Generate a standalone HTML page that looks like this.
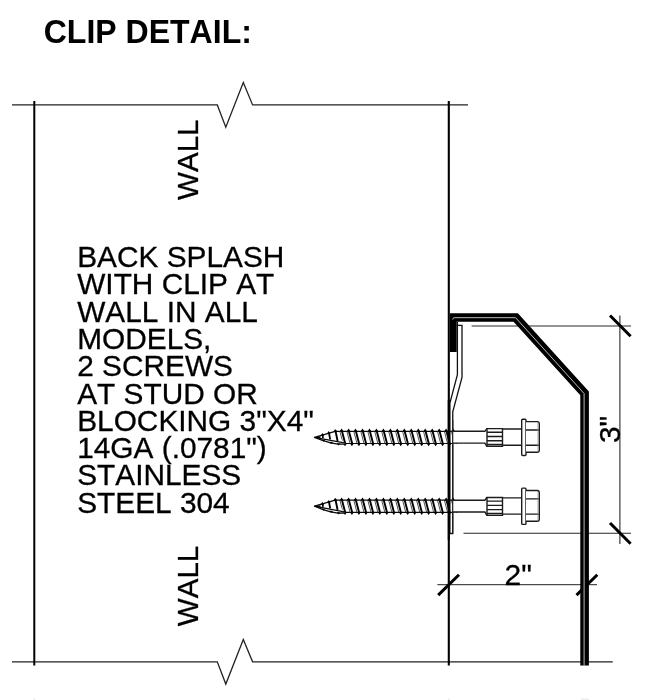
<!DOCTYPE html>
<html lang="en">
<head>
<meta charset="utf-8">
<title>Clip Detail</title>
<style>
html,body{margin:0;padding:0;background:#fff;}
body{width:646px;height:700px;overflow:hidden;position:relative;}
svg{position:absolute;left:0;top:0;display:block;filter:grayscale(1);}
text{font-family:"Liberation Sans",Arial,Helvetica,sans-serif;fill:#000;font-kerning:none;}
.t{font-size:30px;stroke:#000;stroke-width:0.3px;}
</style>
</head>
<body>
<svg width="646" height="700" viewBox="0 0 646 700">
<rect width="646" height="700" fill="#fff"/>
<text transform="translate(43.7 43.3) scale(0.986 1.01)" font-size="32.5" font-weight="bold">CLIP DETAIL:</text>

<path d="M12 104.9H217.3L225.8 127.2L243.3 82.6L252.6 104.9H468" stroke="#222" stroke-width="1.3" fill="none" stroke-linejoin="miter"/>
<path d="M12 661.8H217.3L225.8 684.1L243.3 639.5L252.6 661.8H612.8" stroke="#222" stroke-width="1.3" fill="none" stroke-linejoin="miter"/>
<path d="M34.3 101V665.5" stroke="#000" stroke-width="2" fill="none"/>
<path d="M448.8 101V665.5" stroke="#000" stroke-width="2.1" fill="none"/>
<text class="t" transform="translate(197.9 199.9) rotate(-90) scale(0.985 1)">WALL</text>
<text class="t" transform="translate(197.9 626.2) rotate(-90) scale(0.985 1)">WALL</text>
<text class="t" transform="translate(77.2 267.00) scale(0.994 1)">BACK SPLASH</text>
<text class="t" transform="translate(77.2 294.30) scale(0.994 1)">WITH CLIP AT</text>
<text class="t" transform="translate(77.2 321.60) scale(0.994 1)">WALL IN ALL</text>
<text class="t" transform="translate(77.2 348.90) scale(0.994 1)">MODELS,</text>
<text class="t" transform="translate(77.2 376.20) scale(0.994 1)">2 SCREWS</text>
<text class="t" transform="translate(77.2 403.50) scale(0.994 1)">AT STUD OR</text>
<text class="t" transform="translate(77.2 430.80) scale(0.994 1)">BLOCKING 3&quot;X4&quot;</text>
<text class="t" transform="translate(77.2 458.10) scale(0.994 1)">14GA (.0781&quot;)</text>
<text class="t" transform="translate(77.2 485.40) scale(0.994 1)">STAINLESS</text>
<text class="t" transform="translate(77.2 512.70) scale(0.994 1)">STEEL 304</text>
<path d="M471.6 326H631M463.5 533.2H631M619.9 315.5V544" stroke="#2a2a2a" stroke-width="1.1" fill="none"/>
<path d="M437.4 584.7H597" stroke="#222" stroke-width="1" fill="none"/>
<path d="M610 315.5L630.6 336.3M610 523L630.6 543.8" stroke="#000" stroke-width="3" fill="none"/>
<path d="M438.2 595.1L459 574.7M576.5 595.1L597.3 574.7" stroke="#000" stroke-width="3" fill="none"/>
<text class="t" x="504.6" y="584.6">2&quot;</text>
<text class="t" transform="translate(619.8 443.1) rotate(-90)">3&quot;</text>
<path d="M457.4 322V374.7L449.9 403.2V533.5H452.75V411.9L462 377.4V325.4H456.5" stroke="#111" stroke-width="1.3" fill="#fff" stroke-linejoin="miter"/>
<path d="M335.2 431.3H452.5M343 443.5H452.5" stroke="#0a0a0a" stroke-width="1.2" fill="none"/>
<path d="M342.0 431.3L345.2 443.5M348.9 431.3L352.2 443.5M355.9 431.3L359.1 443.5M362.9 431.3L366.1 443.5M369.9 431.3L373.1 443.5M376.8 431.3L380.0 443.5M383.8 431.3L387.0 443.5M390.8 431.3L394.0 443.5M397.7 431.3L400.9 443.5M404.7 431.3L407.9 443.5M411.7 431.3L414.9 443.5M418.7 431.3L421.9 443.5M425.6 431.3L428.8 443.5M432.6 431.3L435.8 443.5M439.6 431.3L442.8 443.5M446.5 431.3L449.7 443.5M453.5 431.3L456.7 443.5" stroke="#000" stroke-width="1.9" fill="none"/>
<path d="M339.9 431.3L343.1 443.5M346.9 431.3L350.1 443.5M353.8 431.3L357.0 443.5M360.8 431.3L364.0 443.5M367.8 431.3L371.0 443.5M374.7 431.3L377.9 443.5M381.7 431.3L384.9 443.5M388.7 431.3L391.9 443.5M395.6 431.3L398.8 443.5M402.6 431.3L405.8 443.5M409.6 431.3L412.8 443.5M416.6 431.3L419.8 443.5M423.5 431.3L426.7 443.5M430.5 431.3L433.7 443.5M437.5 431.3L440.7 443.5M444.4 431.3L447.6 443.5M451.4 431.3L454.6 443.5" stroke="#333" stroke-width="0.85" fill="none"/>
<path d="M339.6 431.6L341.6 428.6L343.6 431.6ZM343.0 443.2L345.0 446.2L347.0 443.2ZM346.6 431.6L348.6 428.6L350.6 431.6ZM349.9 443.2L351.9 446.2L353.9 443.2ZM353.5 431.6L355.5 428.6L357.5 431.6ZM356.9 443.2L358.9 446.2L360.9 443.2ZM360.5 431.6L362.5 428.6L364.5 431.6ZM363.9 443.2L365.9 446.2L367.9 443.2ZM367.5 431.6L369.5 428.6L371.5 431.6ZM370.9 443.2L372.9 446.2L374.9 443.2ZM374.4 431.6L376.4 428.6L378.4 431.6ZM377.8 443.2L379.8 446.2L381.8 443.2ZM381.4 431.6L383.4 428.6L385.4 431.6ZM384.8 443.2L386.8 446.2L388.8 443.2ZM388.4 431.6L390.4 428.6L392.4 431.6ZM391.8 443.2L393.8 446.2L395.8 443.2ZM395.3 431.6L397.3 428.6L399.3 431.6ZM398.7 443.2L400.7 446.2L402.7 443.2ZM402.3 431.6L404.3 428.6L406.3 431.6ZM405.7 443.2L407.7 446.2L409.7 443.2ZM409.3 431.6L411.3 428.6L413.3 431.6ZM412.7 443.2L414.7 446.2L416.7 443.2ZM416.3 431.6L418.3 428.6L420.3 431.6ZM419.7 443.2L421.7 446.2L423.7 443.2ZM423.2 431.6L425.2 428.6L427.2 431.6ZM426.6 443.2L428.6 446.2L430.6 443.2ZM430.2 431.6L432.2 428.6L434.2 431.6ZM433.6 443.2L435.6 446.2L437.6 443.2ZM437.2 431.6L439.2 428.6L441.2 431.6ZM440.6 443.2L442.6 446.2L444.6 443.2ZM444.1 431.6L446.1 428.6L448.1 431.6ZM447.5 443.2L449.5 446.2L451.5 443.2ZM451.1 431.6L453.1 428.6L455.1 431.6Z" fill="#000"/>
<path d="M335.2 431.3L314.5 437.3L323.1 440.7L330.6 442.9L338 444.2L345 444.1" stroke="#0a0a0a" stroke-width="1.3" fill="#fff" stroke-linejoin="round"/>
<path d="M314.5 437.3L344.2 442.9" stroke="#0a0a0a" stroke-width="1.2" fill="none"/>
<path d="M314.5 437.3L320.5 436.3L320.5 438.4Z" fill="#000"/>
<path d="M322.6 434.5L323.0 438.0" stroke="#000" stroke-width="1.7" fill="none"/>
<path d="M320.5 436.0L322.4 433.0L324.3 435.6Z" fill="#000"/>
<path d="M328.9 432.6L330.2 439.4" stroke="#000" stroke-width="1.8" fill="none"/>
<path d="M326.8 434.1L328.7 431.1L330.6 433.7Z" fill="#000"/>
<path d="M335.4 430.4L337.6 441.0" stroke="#000" stroke-width="1.9" fill="none"/>
<path d="M333.3 431.9L335.2 428.9L337.1 431.5Z" fill="#000"/>
<path d="M321.6 439.5L323.4 441.8L325.2 439.9Z" fill="#000"/>
<path d="M329.4 441.7L331.2 444.0L333.0 442.1Z" fill="#000"/>
<path d="M336.8 443.2L338.6 445.5L340.4 443.6Z" fill="#000"/>
<path d="M452.8 431.3H484.9L486.8 428.6H502.5V446.3H486.8L484.9 443.1H452.8" stroke="#1c1c1c" stroke-width="1.4" fill="#fff"/>
<path d="M487 432.2H502.5M487 436.5H502.5M487 440.7H502.5M487 444.5H502.5M487 428.6V446.3" stroke="#1c1c1c" stroke-width="1.4" fill="none"/>
<path d="M502.5 429.0H521.7M502.5 445.2H521.7" stroke="#1c1c1c" stroke-width="1.4" fill="none"/>
<rect x="521.7" y="419.2" width="4.3" height="36.3" rx="0.9" stroke="#1c1c1c" stroke-width="1.4" fill="#fff"/>
<path d="M526 421.6H537.2Q539.3 421.6 539.3 423.9V450.1Q539.3 452.3 537.2 452.3H526" stroke="#1c1c1c" stroke-width="1.4" fill="#fff"/>
<path d="M526 430.0H539.3M526 445.2H539.3" stroke="#1c1c1c" stroke-width="1.4" fill="none"/>
<path d="M537.9 422.4V451.5" stroke="#999" stroke-width="0.7" fill="none"/>
<path d="M335.2 500.2H452.5M343 512.4H452.5" stroke="#0a0a0a" stroke-width="1.2" fill="none"/>
<path d="M342.0 500.2L345.2 512.4M348.9 500.2L352.2 512.4M355.9 500.2L359.1 512.4M362.9 500.2L366.1 512.4M369.9 500.2L373.1 512.4M376.8 500.2L380.0 512.4M383.8 500.2L387.0 512.4M390.8 500.2L394.0 512.4M397.7 500.2L400.9 512.4M404.7 500.2L407.9 512.4M411.7 500.2L414.9 512.4M418.7 500.2L421.9 512.4M425.6 500.2L428.8 512.4M432.6 500.2L435.8 512.4M439.6 500.2L442.8 512.4M446.5 500.2L449.7 512.4M453.5 500.2L456.7 512.4" stroke="#000" stroke-width="1.9" fill="none"/>
<path d="M339.9 500.2L343.1 512.4M346.9 500.2L350.1 512.4M353.8 500.2L357.0 512.4M360.8 500.2L364.0 512.4M367.8 500.2L371.0 512.4M374.7 500.2L377.9 512.4M381.7 500.2L384.9 512.4M388.7 500.2L391.9 512.4M395.6 500.2L398.8 512.4M402.6 500.2L405.8 512.4M409.6 500.2L412.8 512.4M416.6 500.2L419.8 512.4M423.5 500.2L426.7 512.4M430.5 500.2L433.7 512.4M437.5 500.2L440.7 512.4M444.4 500.2L447.6 512.4M451.4 500.2L454.6 512.4" stroke="#333" stroke-width="0.85" fill="none"/>
<path d="M339.6 500.5L341.6 497.5L343.6 500.5ZM343.0 512.1L345.0 515.1L347.0 512.1ZM346.6 500.5L348.6 497.5L350.6 500.5ZM349.9 512.1L351.9 515.1L353.9 512.1ZM353.5 500.5L355.5 497.5L357.5 500.5ZM356.9 512.1L358.9 515.1L360.9 512.1ZM360.5 500.5L362.5 497.5L364.5 500.5ZM363.9 512.1L365.9 515.1L367.9 512.1ZM367.5 500.5L369.5 497.5L371.5 500.5ZM370.9 512.1L372.9 515.1L374.9 512.1ZM374.4 500.5L376.4 497.5L378.4 500.5ZM377.8 512.1L379.8 515.1L381.8 512.1ZM381.4 500.5L383.4 497.5L385.4 500.5ZM384.8 512.1L386.8 515.1L388.8 512.1ZM388.4 500.5L390.4 497.5L392.4 500.5ZM391.8 512.1L393.8 515.1L395.8 512.1ZM395.3 500.5L397.3 497.5L399.3 500.5ZM398.7 512.1L400.7 515.1L402.7 512.1ZM402.3 500.5L404.3 497.5L406.3 500.5ZM405.7 512.1L407.7 515.1L409.7 512.1ZM409.3 500.5L411.3 497.5L413.3 500.5ZM412.7 512.1L414.7 515.1L416.7 512.1ZM416.3 500.5L418.3 497.5L420.3 500.5ZM419.7 512.1L421.7 515.1L423.7 512.1ZM423.2 500.5L425.2 497.5L427.2 500.5ZM426.6 512.1L428.6 515.1L430.6 512.1ZM430.2 500.5L432.2 497.5L434.2 500.5ZM433.6 512.1L435.6 515.1L437.6 512.1ZM437.2 500.5L439.2 497.5L441.2 500.5ZM440.6 512.1L442.6 515.1L444.6 512.1ZM444.1 500.5L446.1 497.5L448.1 500.5ZM447.5 512.1L449.5 515.1L451.5 512.1ZM451.1 500.5L453.1 497.5L455.1 500.5Z" fill="#000"/>
<path d="M335.2 500.2L314.5 506.2L323.1 509.6L330.6 511.8L338 513.1L345 513.0" stroke="#0a0a0a" stroke-width="1.3" fill="#fff" stroke-linejoin="round"/>
<path d="M314.5 506.2L344.2 511.8" stroke="#0a0a0a" stroke-width="1.2" fill="none"/>
<path d="M314.5 506.2L320.5 505.2L320.5 507.3Z" fill="#000"/>
<path d="M322.6 503.4L323.0 506.9" stroke="#000" stroke-width="1.7" fill="none"/>
<path d="M320.5 504.9L322.4 501.9L324.3 504.5Z" fill="#000"/>
<path d="M328.9 501.5L330.2 508.3" stroke="#000" stroke-width="1.8" fill="none"/>
<path d="M326.8 503.0L328.7 500.0L330.6 502.6Z" fill="#000"/>
<path d="M335.4 499.3L337.6 509.9" stroke="#000" stroke-width="1.9" fill="none"/>
<path d="M333.3 500.8L335.2 497.8L337.1 500.4Z" fill="#000"/>
<path d="M321.6 508.4L323.4 510.7L325.2 508.8Z" fill="#000"/>
<path d="M329.4 510.6L331.2 512.9L333.0 511.0Z" fill="#000"/>
<path d="M336.8 512.1L338.6 514.4L340.4 512.5Z" fill="#000"/>
<path d="M452.8 500.2H484.9L486.8 497.5H502.5V515.2H486.8L484.9 512.0H452.8" stroke="#1c1c1c" stroke-width="1.4" fill="#fff"/>
<path d="M487 501.1H502.5M487 505.4H502.5M487 509.6H502.5M487 513.4H502.5M487 497.5V515.2" stroke="#1c1c1c" stroke-width="1.4" fill="none"/>
<path d="M502.5 497.9H521.7M502.5 514.1H521.7" stroke="#1c1c1c" stroke-width="1.4" fill="none"/>
<rect x="521.7" y="488.1" width="4.3" height="36.3" rx="0.9" stroke="#1c1c1c" stroke-width="1.4" fill="#fff"/>
<path d="M526 490.5H537.2Q539.3 490.5 539.3 492.8V519.0Q539.3 521.2 537.2 521.2H526" stroke="#1c1c1c" stroke-width="1.4" fill="#fff"/>
<path d="M526 498.9H539.3M526 514.1H539.3" stroke="#1c1c1c" stroke-width="1.4" fill="none"/>
<path d="M537.9 491.3V520.4" stroke="#999" stroke-width="0.7" fill="none"/>
<path d="M448.8 400V540" stroke="#000" stroke-width="2.1" fill="none"/>
<path d="M452.75 420V533.5" stroke="#222" stroke-width="1.1" fill="none"/>
<path d="M449.9 313.2H517.9L588.9 391.5V665.5H580.3V395.2L513.5 321.7H456.7V352H449.9Z" fill="#000"/>
<path d="M452.7 319.6Q452.7 317.7 454.6 317.7H515.6L584.1 393.5V665.5" stroke="#ddd" stroke-width="0.85" fill="none" stroke-linejoin="miter"/>
<path d="M33.3 699.3H35.3M448 699.3H449.8M581 699.2H589" stroke="#ececec" stroke-width="1.4" fill="none"/>
</svg>
</body>
</html>
